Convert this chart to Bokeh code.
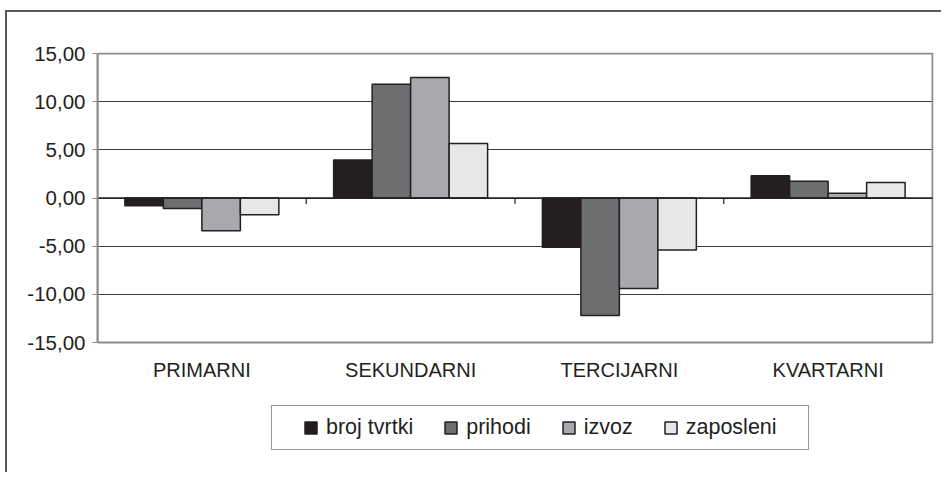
from bokeh.plotting import figure
from bokeh.models import Range1d, FixedTicker, Legend, LegendItem, ColumnDataSource
from bokeh.core.properties import value
from bokeh.embed import file_html
from bokeh.resources import INLINE

# ---- data ----
categories = ["PRIMARNI", "SEKUNDARNI", "TERCIJARNI", "KVARTARNI"]
series_names = ["broj tvrtki", "prihodi", "izvoz", "zaposleni"]
broj_tvrtki = [-0.8, 3.95, -5.1, 2.3]
prihodi = [-1.1, 11.8, -12.2, 1.75]
izvoz = [-3.4, 12.5, -9.4, 0.5]
zaposleni = [-1.75, 5.65, -5.4, 1.6]
y_ticks = [-15, -10, -5, 0, 5, 10, 15]
y_tick_labels = ["-15,00", "-10,00", "-5,00", "0,00", "5,00", "10,00", "15,00"]

series_values = [broj_tvrtki, prihodi, izvoz, zaposleni]
colors = ["#231f20", "#6d6e70", "#a7a9ac", "#e6e7e8"]
FONT = "Liberation Sans"
TEXT = "#231f20"
FRAME_GREY = "#8c8c8c"

# ---- layout (pixels) ----
W, H = 936, 462
LEFT, TOP = 90, 40           # frame origin on the canvas
AREA_W, AREA_H = 835, 289    # visible plot area
BOTTOM_PAD = 4
frame_w = AREA_W + 1
frame_h = H - TOP - BOTTOM_PAD
y_lo, y_hi = min(y_ticks), max(y_ticks)
ppu_y = AREA_H / (y_hi - y_lo)
ppu_x = AREA_W / len(categories)
y_top = y_hi + 1 / ppu_y
y_bot = y_top - frame_h / ppu_y
x_end = len(categories) + 1 / ppu_x

p = figure(width=W, height=H, output_backend="svg", toolbar_location=None,
           x_range=Range1d(0, x_end), y_range=Range1d(y_bot, y_top),
           min_border_left=LEFT, min_border_right=W - LEFT - frame_w,
           min_border_top=TOP, min_border_bottom=BOTTOM_PAD)
p.styles = {"border-top": "2px solid #595959", "border-left": "2px solid #595959",
            "margin-left": "5px", "margin-top": "10px"}
p.background_fill_color = "white"
p.border_fill_color = "white"
p.outline_line_color = None

# grid
p.xgrid.visible = False
p.ygrid.ticker = FixedTicker(ticks=y_ticks)
p.ygrid.grid_line_color = "#3c3c3c"
p.ygrid.grid_line_width = 1

# plot-area border (top, right, bottom)
p.quad(left=[0], right=[len(categories)], bottom=[y_lo], top=[y_hi],
       fill_color=None, line_color=FRAME_GREY, line_width=2)

# bars
bar_w = 0.1844
renderers = []
for k, (name, vals) in enumerate(zip(series_names, series_values)):
    xs = [i + 0.5 + (k - 1.5) * bar_w for i in range(len(categories))]
    src = ColumnDataSource(dict(x=xs, top=vals))
    r = p.vbar(x="x", top="top", bottom=0, width=bar_w, source=src,
               fill_color=colors[k], line_color="#231f20", line_width=1.5)
    renderers.append((name, r))

# zero line and category separators
p.segment(x0=[0], y0=[0], x1=[len(categories)], y1=[0], line_color="#231f20", line_width=1.5)
bounds = list(range(1, len(categories)))
p.segment(x0=bounds, y0=[0] * len(bounds), x1=bounds, y1=[-0.62] * len(bounds),
          line_color="#231f20", line_width=1.2)

# category labels below the plot area
p.text(x=[i + 0.5 for i in range(len(categories))], y=[y_lo] * len(categories),
       text=categories, y_offset=27, text_align="center", text_baseline="middle",
       text_font=value(FONT), text_font_size="20px", text_color=TEXT)

# y axis
p.xaxis.visible = False
ya = p.yaxis[0]
ya.ticker = FixedTicker(ticks=y_ticks)
ya.bounds = (y_lo, y_hi)
ya.major_label_overrides = {t: l for t, l in zip(y_ticks, y_tick_labels)}
ya.axis_line_color = FRAME_GREY
ya.axis_line_width = 2
ya.major_tick_line_color = FRAME_GREY
ya.major_tick_out = 5
ya.major_tick_in = 0
ya.minor_tick_line_color = None
ya.major_label_standoff = 7
ya.major_label_text_font = FONT
ya.major_label_text_font_size = "20.5px"
ya.major_label_text_color = TEXT

# legend
legend = Legend(items=[LegendItem(label=n, renderers=[r]) for n, r in renderers],
                location=(174, 20), orientation="horizontal")
legend.margin = 0
try:
    legend.padding = (31, 9)
except Exception:
    legend.padding = 10
legend.spacing = 30
legend.glyph_width = 15
legend.glyph_height = 15
legend.label_standoff = 8
legend.label_text_font = FONT
legend.label_text_font_size = "21.5px"
legend.label_text_color = TEXT
legend.border_line_color = "#333333"
legend.border_line_width = 1.5
legend.background_fill_color = "white"
legend.background_fill_alpha = 1
p.add_layout(legend, "center")

open("out.html", "w").write(file_html(p, INLINE))
